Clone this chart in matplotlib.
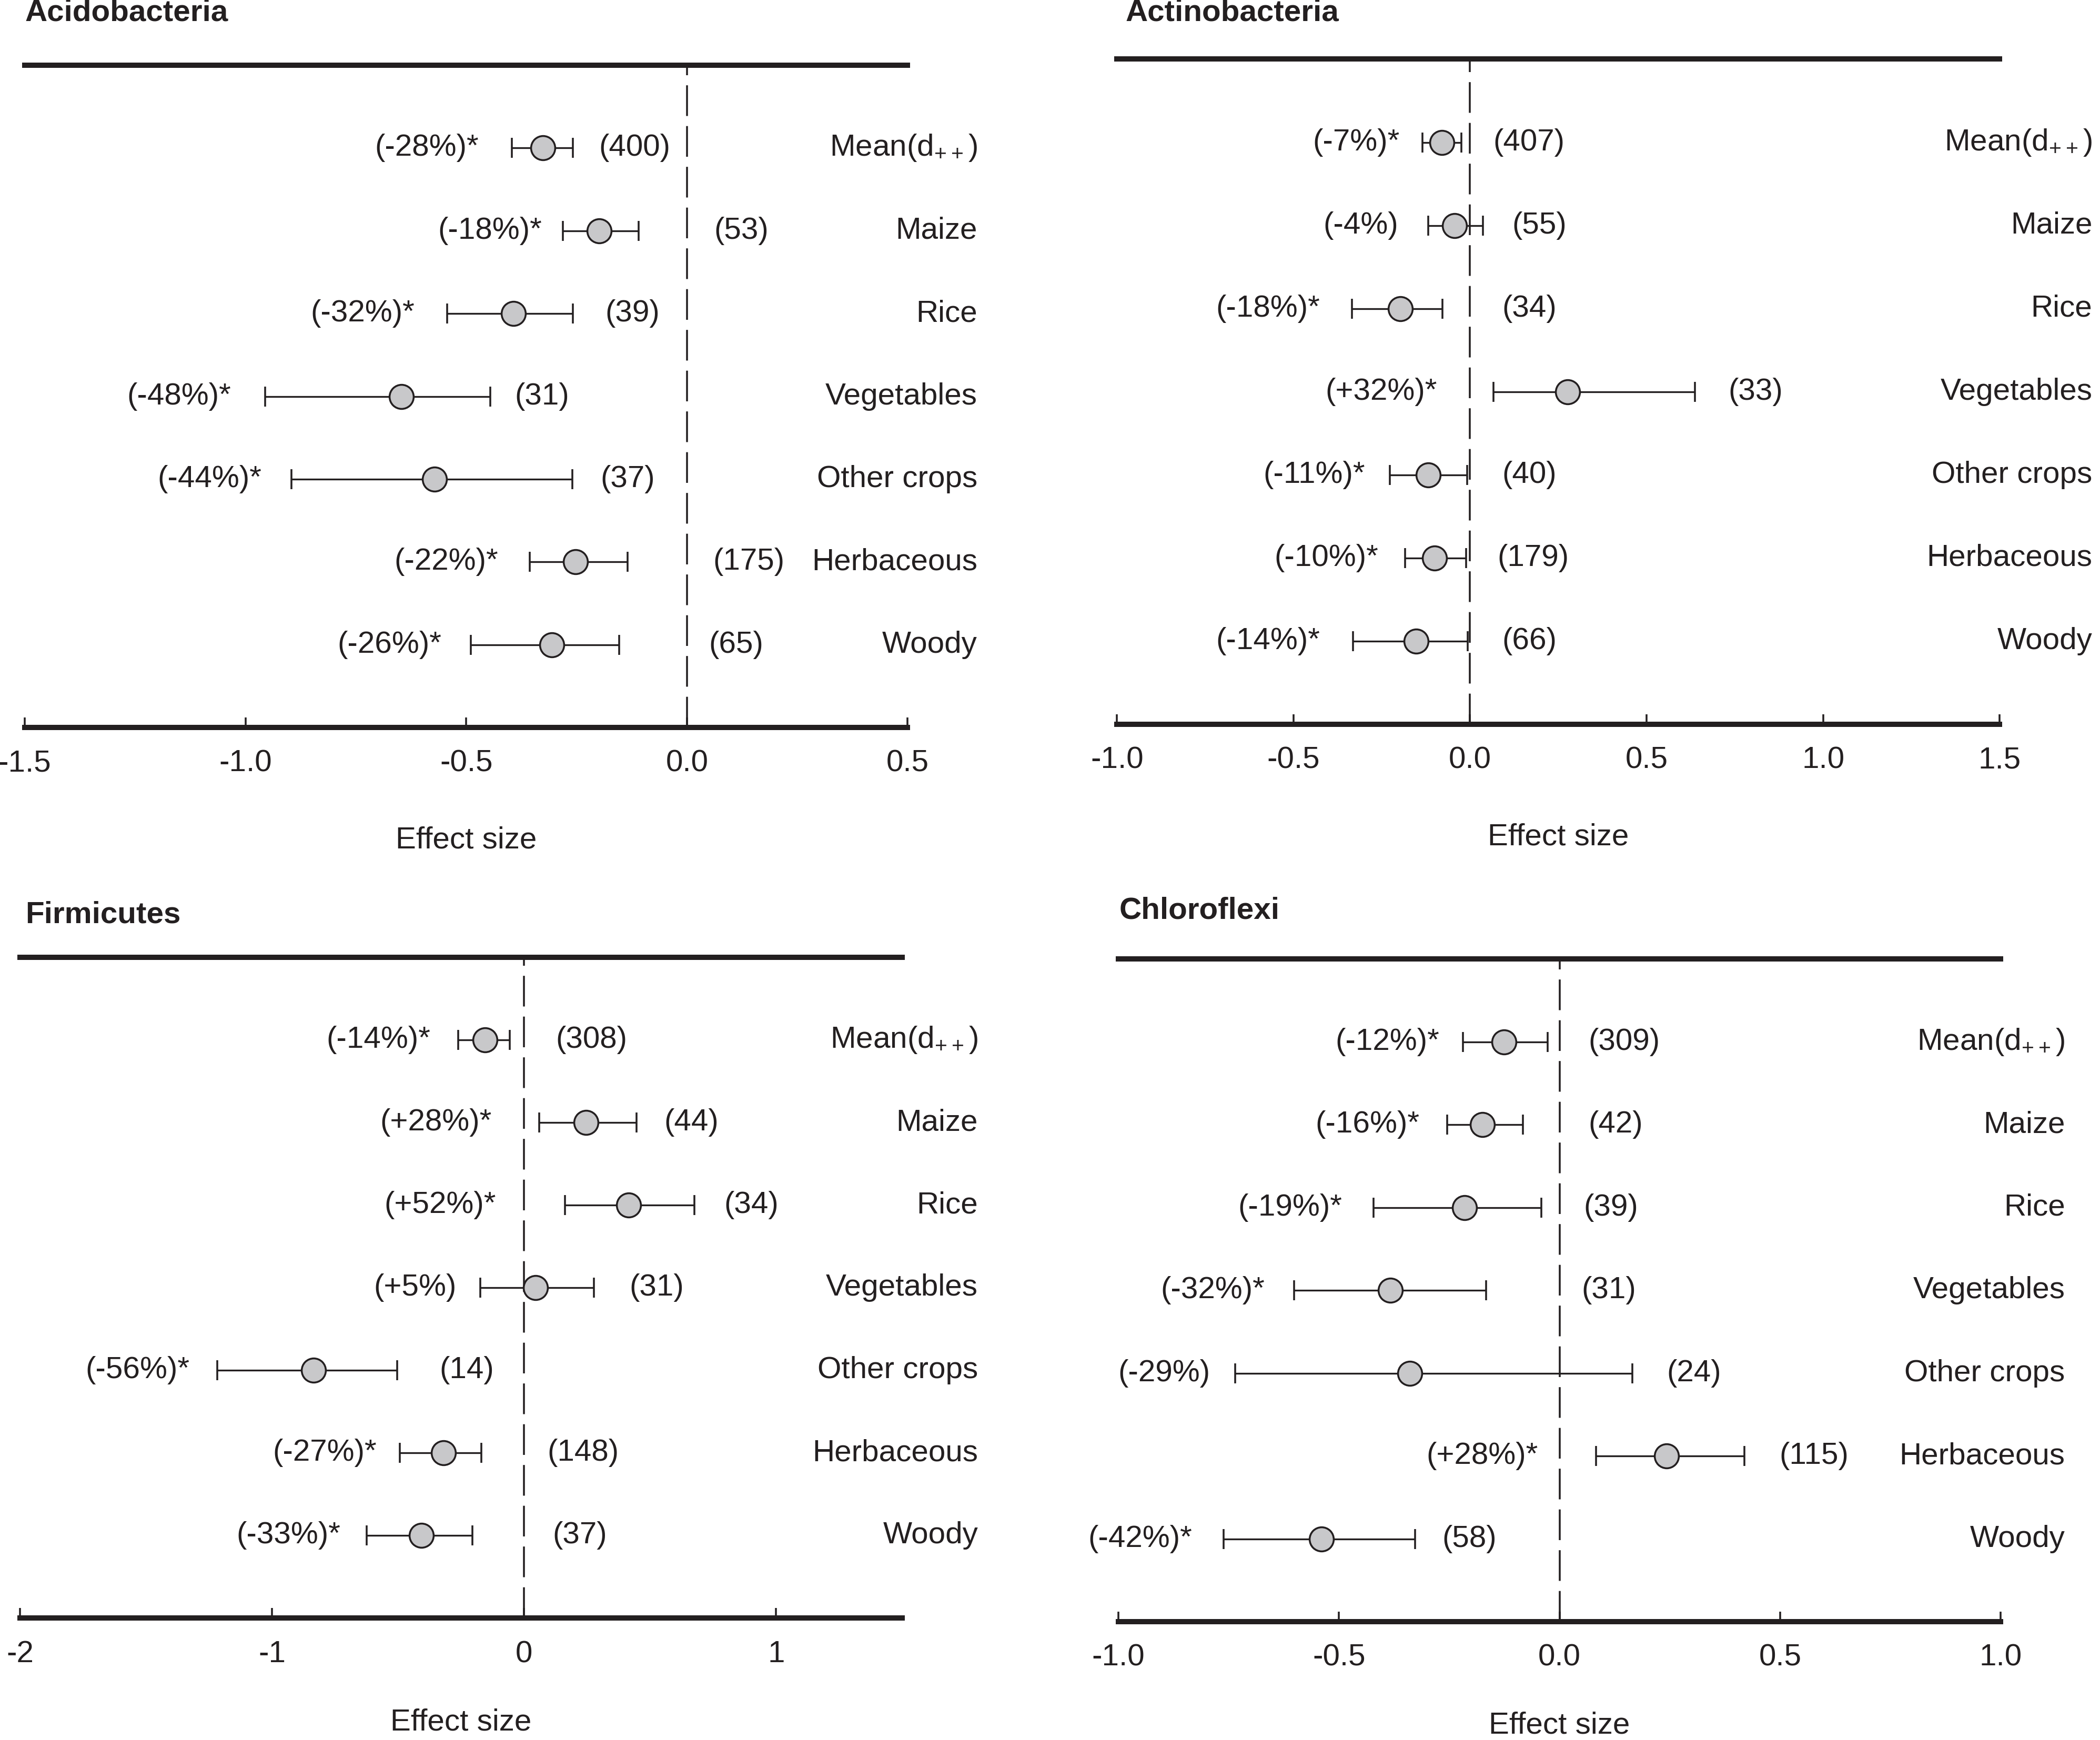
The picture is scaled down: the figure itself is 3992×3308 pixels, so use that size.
import numpy as np
import matplotlib
matplotlib.use("Agg")
import matplotlib.pyplot as plt

plt.rcParams['font.family'] = ['Liberation Sans', 'DejaVu Sans']
plt.rcParams['mathtext.fontset'] = 'custom'
plt.rcParams['mathtext.rm'] = 'Liberation Sans'
plt.rcParams['mathtext.default'] = 'regular'
plt.rcParams['axes.unicode_minus'] = False
plt.rcParams['lines.scale_dashes'] = False

ink = '#231f20'

# Row labels (top to bottom).
categories = ['Mean(d$_{++}$)', 'Maize', 'Rice', 'Vegetables',
              'Other crops', 'Herbaceous', 'Woody']

# Acidobacteria
acido_mean = [-0.326, -0.199, -0.393, -0.647, -0.572, -0.252, -0.306]
acido_lo = [-0.396, -0.281, -0.543, -0.955, -0.896, -0.356, -0.490]
acido_hi = [-0.258, -0.109, -0.258, -0.446, -0.259, -0.135, -0.153]
acido_pct = ['(-28%)*', '(-18%)*', '(-32%)*', '(-48%)*', '(-44%)*', '(-22%)*', '(-26%)*']
acido_n = ['(400)', '(53)', '(39)', '(31)', '(37)', '(175)', '(65)']

# Actinobacteria
actino_mean = [-0.080, -0.044, -0.197, 0.277, -0.118, -0.100, -0.152]
actino_lo = [-0.135, -0.119, -0.335, 0.066, -0.227, -0.184, -0.332]
actino_hi = [-0.025, 0.036, -0.078, 0.637, -0.008, -0.011, -0.006]
actino_pct = ['(-7%)*', '(-4%)', '(-18%)*', '(+32%)*', '(-11%)*', '(-10%)*', '(-14%)*']
actino_n = ['(407)', '(55)', '(34)', '(33)', '(40)', '(179)', '(66)']

# Firmicutes
firmi_mean = [-0.154, 0.245, 0.415, 0.045, -0.835, -0.319, -0.407]
firmi_lo = [-0.261, 0.061, 0.162, -0.173, -1.218, -0.492, -0.625]
firmi_hi = [-0.056, 0.447, 0.676, 0.277, -0.503, -0.170, -0.205]
firmi_pct = ['(-14%)*', '(+28%)*', '(+52%)*', '(+5%)', '(-56%)*', '(-27%)*', '(-33%)*']
firmi_n = ['(308)', '(44)', '(34)', '(31)', '(14)', '(148)', '(37)']

# Chloroflexi
chloro_mean = [-0.126, -0.175, -0.215, -0.384, -0.340, 0.243, -0.540]
chloro_lo = [-0.219, -0.255, -0.422, -0.602, -0.736, 0.083, -0.762]
chloro_hi = [-0.027, -0.083, -0.041, -0.167, 0.165, 0.419, -0.328]
chloro_pct = ['(-12%)*', '(-16%)*', '(-19%)*', '(-32%)*', '(-29%)', '(+28%)*', '(-42%)*']
chloro_n = ['(309)', '(42)', '(39)', '(31)', '(24)', '(115)', '(58)']

# Where the annotation texts sit (x in data units): right end of the
# percentage text, left end of the sample-size text.
acido_pct_x = [-0.472, -0.329, -0.617, -1.033, -0.963, -0.428, -0.556]
acido_n_x = [-0.200, 0.062, -0.185, -0.390, -0.196, 0.059, 0.050]
actino_pct_x = [-0.199, -0.203, -0.425, -0.093, -0.298, -0.260, -0.425]
actino_n_x = [0.066, 0.119, 0.091, 0.732, 0.091, 0.078, 0.091]
firmi_pct_x = [-0.372, -0.128, -0.112, -0.269, -1.327, -0.585, -0.729]
firmi_n_x = [0.125, 0.556, 0.793, 0.418, -0.335, 0.093, 0.112]
chloro_pct_x = [-0.272, -0.317, -0.493, -0.669, -0.792, -0.049, -0.833]
chloro_n_x = [0.065, 0.065, 0.055, 0.050, 0.243, 0.498, -0.266]

fs = 14

fig = plt.figure(figsize=(3992 / 300, 3308 / 300), dpi=300)


def draw_panel(rect, title, title_xy, mean, lo, hi, pct, n, pct_x, n_x,
               xlim, ticks, ticklabels, cat_x, labelpad=22):
    ax = fig.add_axes(rect)
    rows = np.arange(1, len(mean) + 1)
    mean = np.array(mean)
    err = [mean - np.array(lo), np.array(hi) - mean]

    # zero line
    ax.axvline(0, color=ink, lw=0.85, linestyle=(0, (14, 4.6)), zorder=1)

    ax.errorbar(mean, rows, xerr=err, fmt='o', color=ink, ecolor=ink,
                elinewidth=0.8, capsize=4.5, capthick=0.8,
                markersize=11, markerfacecolor='#c8c8ca',
                markeredgecolor=ink, markeredgewidth=0.85, zorder=3)

    for i in range(len(mean)):
        ax.text(pct_x[i], rows[i], pct[i], ha='right', va='center',
                fontsize=fs, color=ink)
        ax.text(n_x[i], rows[i], n[i], ha='left', va='center',
                fontsize=fs, color=ink)
        ax.text(cat_x, rows[i], categories[i], ha='right', va='center',
                fontsize=fs, color=ink, transform=ax.get_yaxis_transform())

    ax.set_xlim(xlim)
    ax.set_ylim(len(mean) + 1, 0)

    for side in ['left', 'right']:
        ax.spines[side].set_visible(False)
    for side in ['top', 'bottom']:
        ax.spines[side].set_linewidth(2.4)
        ax.spines[side].set_color(ink)

    ax.set_yticks([])
    ax.set_xticks(ticks)
    ax.set_xticklabels(ticklabels)
    ax.tick_params(axis='x', direction='in', length=4.5, width=0.85,
                   pad=10, labelsize=fs, colors=ink)
    ax.set_xlabel('Effect size', fontsize=fs, color=ink, labelpad=labelpad)

    fig.text(title_xy[0], title_xy[1], title, fontsize=fs, fontweight='bold',
             color=ink, ha='left', va='baseline')
    return ax


draw_panel([0.0118, 0.5819, 0.4204, 0.3806], 'Acidobacteria', (0.0118, 0.988),
           acido_mean, acido_lo, acido_hi, acido_pct, acido_n,
           acido_pct_x, acido_n_x,
           (-1.5, 0.5), [-1.5, -1.0, -0.5, 0.0, 0.5],
           ['-1.5', '-1.0', '-0.5', '0.0', '0.5'], 1.079)

draw_panel([0.5319, 0.5838, 0.4203, 0.3822], 'Actinobacteria', (0.536, 0.988),
           actino_mean, actino_lo, actino_hi, actino_pct, actino_n,
           actino_pct_x, actino_n_x,
           (-1.0, 1.5), [-1.0, -0.5, 0.0, 0.5, 1.0, 1.5],
           ['-1.0', '-0.5', '0.0', '0.5', '1.0', '1.5'], 1.105)

draw_panel([0.0095, 0.0700, 0.4201, 0.3798], 'Firmicutes', (0.012, 0.4695),
           firmi_mean, firmi_lo, firmi_hi, firmi_pct, firmi_n,
           firmi_pct_x, firmi_n_x,
           (-2.0, 1.5), [-2, -1, 0, 1],
           ['-2', '-1', '0', '1'], 1.086, labelpad=18)

draw_panel([0.5326, 0.0680, 0.4201, 0.3809], 'Chloroflexi', (0.533, 0.472),
           chloro_mean, chloro_lo, chloro_hi, chloro_pct, chloro_n,
           chloro_pct_x, chloro_n_x,
           (-1.0, 1.0), [-1.0, -0.5, 0.0, 0.5, 1.0],
           ['-1.0', '-0.5', '0.0', '0.5', '1.0'], 1.073, labelpad=18)

fig.savefig('out.png', dpi=300)
